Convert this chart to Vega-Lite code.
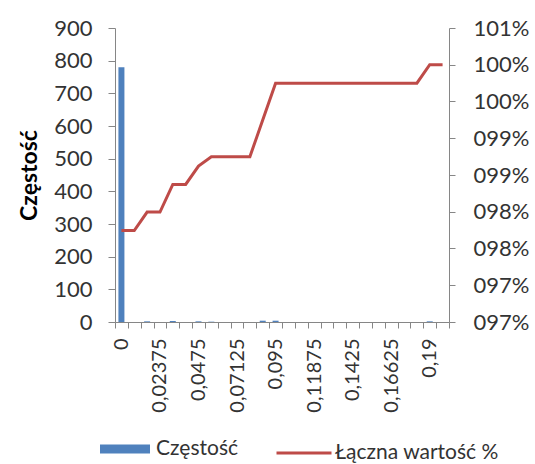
{
  "$schema": "https://vega.github.io/schema/vega-lite/v6.json",
  "width": 334,
  "height": 294,
  "autosize": {"type": "none"},
  "padding": {"left": 115, "top": 28, "right": 86, "bottom": 142},
  "background": "white",
  "config": {
    "view": {"stroke": null},
    "font": "Lato",
    "axis": {"grid": false, "domainColor": "#868686", "tickColor": "#868686", "labelColor": "#333333", "labelFontSize": 20, "labelFont": "Lato"},
    "legend": {"labelFont": "Lato", "labelFontSize": 21, "labelColor": "#333333", "labelLimit": 400}
  },
  "data": {"values": [
    {"bin": "0", "freq": 780, "cum": 0.97744},
    {"bin": "0,007916667", "freq": 0, "cum": 0.97744},
    {"bin": "0,015833333", "freq": 2, "cum": 0.97995},
    {"bin": "0,02375", "freq": 0, "cum": 0.97995},
    {"bin": "0,031666667", "freq": 3, "cum": 0.98371},
    {"bin": "0,039583333", "freq": 0, "cum": 0.98371},
    {"bin": "0,0475", "freq": 2, "cum": 0.98622},
    {"bin": "0,055416667", "freq": 1, "cum": 0.98747},
    {"bin": "0,063333333", "freq": 0, "cum": 0.98747},
    {"bin": "0,07125", "freq": 0, "cum": 0.98747},
    {"bin": "0,079166667", "freq": 0, "cum": 0.98747},
    {"bin": "0,087083333", "freq": 4, "cum": 0.99248},
    {"bin": "0,095", "freq": 4, "cum": 0.99749},
    {"bin": "0,102916667", "freq": 0, "cum": 0.99749},
    {"bin": "0,110833333", "freq": 0, "cum": 0.99749},
    {"bin": "0,11875", "freq": 0, "cum": 0.99749},
    {"bin": "0,126666667", "freq": 0, "cum": 0.99749},
    {"bin": "0,134583333", "freq": 0, "cum": 0.99749},
    {"bin": "0,1425", "freq": 0, "cum": 0.99749},
    {"bin": "0,150416667", "freq": 0, "cum": 0.99749},
    {"bin": "0,158333333", "freq": 0, "cum": 0.99749},
    {"bin": "0,16625", "freq": 0, "cum": 0.99749},
    {"bin": "0,174166667", "freq": 0, "cum": 0.99749},
    {"bin": "0,182083333", "freq": 0, "cum": 0.99749},
    {"bin": "0,19", "freq": 2, "cum": 1.0},
    {"bin": "Więcej", "freq": 0, "cum": 1.0}
  ]},
  "layer": [
    {
      "mark": {"type": "bar", "width": 6},
      "encoding": {
        "x": {
          "field": "bin", "type": "ordinal", "sort": null,
          "scale": {"paddingInner": 0, "paddingOuter": 0},
          "axis": {
            "title": null, "labelAngle": -90, "tickBand": "extent", "tickSize": 6,
            "labelPadding": 10, "labelOverlap": false,
            "labelExpr": "(length(datum.label) <= 7 && datum.label != 'Więcej') ? datum.label : ''"
          }
        },
        "y": {
          "field": "freq", "type": "quantitative",
          "scale": {"domain": [0, 900]},
          "axis": {
            "title": "Częstość", "titleFontSize": 23, "titleFontWeight": "bold", "titleColor": "#000000",
            "titleFont": "Lato", "titlePadding": 12, "labelFontSize": 22,
            "values": [0, 100, 200, 300, 400, 500, 600, 700, 800, 900],
            "tickSize": 7, "labelPadding": 16
          }
        },
        "fill": {
          "datum": "Częstość",
          "scale": {"range": ["#4F81BD"]},
          "legend": {
            "orient": "none", "legendX": -15, "legendY": 396, "title": null,
            "symbolType": "M-1,-0.18H1V0.18H-1Z", "symbolSize": 2500, "symbolStrokeWidth": 0,
            "labelOffset": 6
          }
        }
      }
    },
    {
      "mark": {"type": "line", "strokeWidth": 3},
      "encoding": {
        "x": {"field": "bin", "type": "ordinal", "sort": null},
        "y": {
          "field": "cum", "type": "quantitative",
          "scale": {"domain": [0.965, 1.005], "nice": false, "zero": false},
          "axis": {
            "orient": "right", "title": null, "labelFontSize": 22,
            "values": [0.965, 0.97, 0.975, 0.98, 0.985, 0.99, 0.995, 1.0, 1.005],
            "labelExpr": "datum.value < 0.9725 ? '097%' : datum.value < 0.9825 ? '098%' : datum.value < 0.9925 ? '099%' : datum.value < 1.0025 ? '100%' : '101%'",
            "tickSize": 6, "labelPadding": 18
          }
        },
        "stroke": {
          "datum": "Łączna wartość %",
          "scale": {"range": ["#BE4B48"]},
          "legend": {
            "orient": "none", "legendX": 160, "legendY": 396, "title": null,
            "symbolType": "stroke", "symbolSize": 3025, "symbolStrokeWidth": 3,
            "labelOffset": 2
          }
        }
      }
    }
  ],
  "resolve": {"scale": {"y": "independent"}}
}
